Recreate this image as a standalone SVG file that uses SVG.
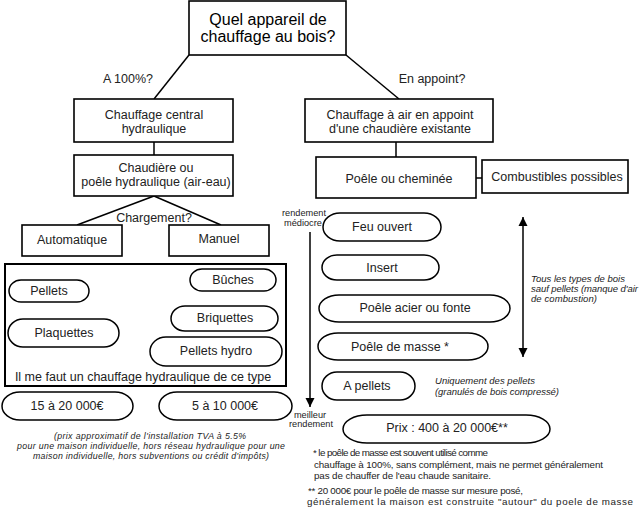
<svg xmlns="http://www.w3.org/2000/svg" width="640" height="511" viewBox="0 0 640 511">
<defs>
<style>
.box{fill:#fff;stroke:#000;stroke-width:1.6}
.pill{fill:#fff;stroke:#000;stroke-width:1.5}
.ln{fill:none;stroke:#000;stroke-width:1.5}
text{font-family:"Liberation Sans",Arial,sans-serif;fill:#222}
.t{font-size:12.5px;text-anchor:middle}
.big{font-size:16px;text-anchor:middle;fill:#000}
.s{font-size:9.2px;text-anchor:middle}
.it{font-size:9.5px;font-style:italic}
.itb{font-size:8.8px;font-style:italic}
.fn{font-size:9.8px}
</style>
<marker id="ah" viewBox="0 0 10 10" refX="10" refY="5" markerWidth="9" markerHeight="10" markerUnits="userSpaceOnUse" orient="auto-start-reverse">
<path d="M0,0 L10,5 L0,10 Z" fill="#000"/>
</marker>
</defs>
<rect width="640" height="511" fill="#fff"/>

<g id="connectors">
<line class="ln" x1="189" y1="55" x2="154" y2="99"/>
<line class="ln" x1="346" y1="55" x2="399" y2="99"/>
<line class="ln" x1="154" y1="142" x2="154" y2="155"/>
<line class="ln" x1="154" y1="196" x2="77" y2="225"/>
<line class="ln" x1="154" y1="196" x2="221" y2="225"/>
<line class="ln" x1="396" y1="142" x2="396" y2="157"/>
<line class="ln" x1="476" y1="178" x2="482" y2="178"/>
<line class="ln" x1="310" y1="232" x2="310" y2="407" marker-end="url(#ah)"/>
<line class="ln" x1="523" y1="217" x2="523" y2="357" marker-start="url(#ah)" marker-end="url(#ah)"/>
</g>

<g id="labels">
<text class="t" x="128" y="83">A 100%?</text>
<text class="t" x="432" y="83">En appoint?</text>
<text class="t" x="154" y="222">Chargement?</text>
<text class="s" x="304" y="216">rendement</text>
<text class="s" x="303" y="226">médiocre</text>
<text class="s" x="310" y="418">meilleur</text>
<text class="s" x="311" y="427">rendement</text>
<text class="it" x="531" y="282" textLength="94" lengthAdjust="spacing">Tous les types de bois</text>
<text class="it" x="531" y="292" textLength="107" lengthAdjust="spacing">sauf pellets (manque d'air</text>
<text class="it" x="531" y="302" textLength="66" lengthAdjust="spacing">de combustion)</text>
<text class="it" x="435" y="384" textLength="100" lengthAdjust="spacing">Uniquement des pellets</text>
<text class="it" x="435" y="395" textLength="124" lengthAdjust="spacing">(granulés de bois compressé)</text>
<text class="itb" x="54" y="439" textLength="192" lengthAdjust="spacing">(prix approximatif de l'installation TVA à 5.5%</text>
<text class="itb" x="17" y="449" textLength="268" lengthAdjust="spacing">pour une maison individuelle, hors réseau hydraulique pour une</text>
<text class="itb" x="33" y="459" textLength="236" lengthAdjust="spacing">maison individuelle, hors subventions ou crédit d'impôts)</text>
<text class="fn" x="313" y="456" textLength="175" lengthAdjust="spacing">* le poêle de masse est souvent utilisé comme</text>
<text class="fn" x="314" y="468" textLength="289" lengthAdjust="spacing">chauffage à 100%, sans complément, mais ne permet généralement</text>
<text class="fn" x="314" y="479" textLength="177" lengthAdjust="spacing">pas de chauffer de l'eau chaude sanitaire.</text>
<text class="fn" x="308" y="494" textLength="215" lengthAdjust="spacing">** 20 000€ pour le poêle de masse sur mesure posé,</text>
<text class="fn" x="307" y="505" textLength="326" lengthAdjust="spacing">généralement la maison est construite "autour" du poele de masse</text>
</g>

<g id="question">
<rect class="box" x="189" y="1" width="157" height="54"/>
<text class="big" x="268" y="25">Quel appareil de</text>
<text class="big" x="268" y="42">chauffage au bois?</text>
</g>

<g id="central">
<rect class="box" x="74" y="99" width="159" height="43"/>
<text class="t" x="154" y="119">Chauffage central</text>
<text class="t" x="154" y="133">hydraulique</text>
</g>

<g id="chaudiere">
<rect class="box" x="74" y="155" width="159" height="41"/>
<text class="t" x="156" y="172">Chaudière ou</text>
<text class="t" x="156" y="186">poêle hydraulique (air-eau)</text>
</g>

<g id="automatique">
<rect class="box" x="22" y="225" width="100" height="31"/>
<text class="t" x="72" y="244">Automatique</text>
</g>

<g id="manuel">
<rect class="box" x="169" y="225" width="100" height="31"/>
<text class="t" x="219" y="243">Manuel</text>
</g>

<g id="hydro-types">
<rect fill="none" stroke="#000" stroke-width="2" x="5" y="264" width="281" height="122"/>
<text class="t" x="143" y="381">Il me faut un chauffage hydraulique de ce type</text>
</g>

<g id="pellets">
<rect class="pill" x="9" y="280" width="80" height="22" rx="12" ry="11"/>
<text class="t" x="49" y="295">Pellets</text>
</g>

<g id="buches">
<rect class="pill" x="190" y="269" width="86" height="22" rx="12" ry="11"/>
<text class="t" x="233" y="284">Bûches</text>
</g>

<g id="plaquettes">
<rect class="pill" x="8" y="319" width="111" height="28" rx="15" ry="14"/>
<text class="t" x="64" y="337">Plaquettes</text>
</g>

<g id="briquettes">
<rect class="pill" x="171" y="306" width="107" height="25" rx="14" ry="12.5"/>
<text class="t" x="225" y="322">Briquettes</text>
</g>

<g id="pellets-hydro">
<rect class="pill" x="150" y="337" width="132" height="29" rx="16" ry="14.5"/>
<text class="t" x="216" y="355">Pellets hydro</text>
</g>

<g id="prix-auto">
<rect class="pill" x="2" y="392" width="131" height="28" rx="18" ry="14"/>
<text class="t" x="67" y="410">15 à 20 000€</text>
</g>

<g id="prix-manuel">
<rect class="pill" x="159" y="392" width="133" height="28" rx="18" ry="14"/>
<text class="t" x="225" y="410">5 à 10 000€</text>
</g>

<g id="appoint">
<rect class="box" x="305" y="99" width="188" height="43"/>
<text class="t" x="400" y="119">Chauffage à air en appoint</text>
<text class="t" x="400" y="133">d'une chaudière existante</text>
</g>

<g id="poele">
<rect class="box" x="316" y="157" width="160" height="41"/>
<text class="t" x="399" y="183">Poêle ou cheminée</text>
</g>

<g id="combustibles">
<rect class="box" x="482" y="160" width="146" height="33"/>
<text class="t" x="557" y="181">Combustibles possibles</text>
</g>

<g id="feu-ouvert">
<rect class="pill" x="323" y="213" width="118" height="28" rx="17" ry="14"/>
<text class="t" x="382" y="231">Feu ouvert</text>
</g>

<g id="insert">
<rect class="pill" x="322" y="255" width="117" height="25" rx="15" ry="12.5"/>
<text class="t" x="382" y="272">Insert</text>
</g>

<g id="poele-acier">
<rect class="pill" x="319" y="295" width="191" height="27" rx="20" ry="13.5"/>
<text class="t" x="415" y="312">Poêle acier ou fonte</text>
</g>

<g id="poele-masse">
<rect class="pill" x="318" y="333" width="170" height="27" rx="20" ry="13.5"/>
<text class="t" x="400" y="351">Poêle de masse *</text>
</g>

<g id="a-pellets">
<rect class="pill" x="322" y="372" width="93" height="28" rx="15" ry="14"/>
<text class="t" x="367" y="390">A pellets</text>
</g>

<g id="prix-poele">
<rect class="pill" x="343" y="415" width="207" height="28" rx="24" ry="14"/>
<text class="t" x="447" y="432">Prix : 400 à 20 000€**</text>
</g>
</svg>
